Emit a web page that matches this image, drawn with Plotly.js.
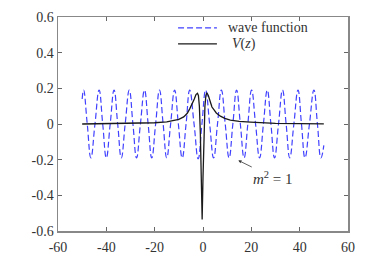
<!DOCTYPE html>
<html>
<head>
<meta charset="utf-8">
<script src="https://cdn.plot.ly/plotly-3.0.1.min.js"></script>
<style>html,body{margin:0;padding:0;background:#fff;}#chart{width:374px;height:262px;}</style>
</head>
<body>
<div id="chart"></div>
<script>
// wave function (extrema and zero crossings)
const waveZ = [-50,-49.4,-47.9,-46.4,-44.7,-43.0,-41.5,-40.0,-38.4,-36.8,-35.3,-33.8,-32.2,-30.5,-29.0,-27.5,-25.9,-24.2,-22.7,-21.2,-19.6,-18.0,-16.5,-15.0,-13.4,-11.75,-10.2,-8.6,-7.0,-5.5,-3.7,-2.0,-0.45,1.1,2.75,4.4,6.0,7.6,9.2,10.8,12.35,13.9,15.45,17.0,18.55,20.1,21.75,23.4,25.0,26.6,28.1,29.6,31.25,32.9,34.4,35.9,37.6,39.3,40.75,42.2,44.05,45.9,47.35,48.8,50];
const wavePsi = [0.14,0.19,0,-0.19,0,0.19,0,-0.19,0,0.19,0,-0.19,0,0.19,0,-0.19,0,0.19,0,-0.19,0,0.19,0,-0.19,0,0.19,0,-0.19,0,0.19,0,-0.195,0,0.19,0,-0.19,0,0.19,0,-0.19,0,0.19,0,-0.19,0,0.19,0,-0.19,0,0.19,0,-0.19,0,0.19,0,-0.19,0,0.19,0,-0.19,0,0.19,0,-0.19,-0.12];
// potential V(z)
const potZ = [-50,-40,-30,-25,-20,-15,-12,-10,-8,-6.5,-5.5,-4.5,-3.6,-2.9,-2.3,-1.9,-1.5,-1.1,-0.7,-0.35,0.0,0.4,0.8,1.2,1.6,2.2,2.9,3.7,4.5,5.5,7.2,9.0,11.3,15,19.6,23.7,30,40,50];
const potV = [0,0.001,0.002,0.004,0.007,0.012,0.018,0.026,0.04,0.06,0.085,0.11,0.14,0.165,0.172,0.16,0.1,-0.05,-0.3,-0.535,-0.3,-0.05,0.1,0.16,0.175,0.16,0.125,0.095,0.08,0.062,0.044,0.032,0.022,0.015,0.011,0.007,0.004,0.002,0.001];
const xTicks = [-60,-40,-20,0,20,40,60];
const xTickText = ['-60','-40','-20','0','20','40','60'];
const yTicks = [-0.6,-0.4,-0.2,0,0.2,0.4,0.6];
const yTickText = ['-0.6','-0.4','-0.2','0','0.2','0.4','0.6'];
const seriesNames = ['wave function', '<i>V</i>(<i>z</i>)'];

const serif = 'Liberation Serif';
const waveLine = {color: '#4040ff', width: 1.2, dash: '6px,3px'};
const potLine = {color: '#1a1a1a', width: 1.3};

const traces = [
  {x: waveZ, y: wavePsi, type: 'scatter', mode: 'lines', name: seriesNames[0],
   line: Object.assign({shape: 'spline', smoothing: 1.3}, waveLine)},
  {x: potZ, y: potV, type: 'scatter', mode: 'lines', name: seriesNames[1], line: potLine}
];

const axisCommon = {
  showgrid: false, zeroline: false, showline: true, linecolor: '#888', linewidth: 1.5,
  mirror: 'ticks', ticks: 'inside', ticklen: 4, tickcolor: '#666', tickwidth: 1,
  tickfont: {family: serif, size: 14, color: '#333'}
};

const legFont = {family: serif, size: 14, color: '#333'};
const layout = {
  width: 374, height: 262,
  margin: {l: 58, r: 26, t: 17, b: 31},
  paper_bgcolor: '#fff', plot_bgcolor: '#fff',
  font: {family: serif},
  showlegend: false,
  xaxis: Object.assign({}, axisCommon, {range: [-60, 60], tickvals: xTicks, ticktext: xTickText, ticklabelstandoff: 3}),
  yaxis: Object.assign({}, axisCommon, {range: [-0.6, 0.6], tickvals: yTicks, ticktext: yTickText}),
  shapes: [
    {type: 'line', xref: 'paper', yref: 'paper', x0: 0.414, x1: 0.548, y0: 0.949, y1: 0.949, line: waveLine},
    {type: 'line', xref: 'paper', yref: 'paper', x0: 0.414, x1: 0.548, y0: 0.874, y1: 0.874, line: potLine}
  ],
  annotations: [
    {x: 0.579, y: 0.949, xref: 'paper', yref: 'paper', xanchor: 'left', yanchor: 'middle',
     text: seriesNames[0], showarrow: false, font: legFont},
    {x: 0.594, y: 0.874, xref: 'paper', yref: 'paper', xanchor: 'left', yanchor: 'middle',
     text: seriesNames[1], showarrow: false, font: legFont},
    {
    x: 14.6, y: -0.204, xref: 'x', yref: 'y',
    ax: 29, ay: -0.3, axref: 'x', ayref: 'y',
    text: '<i>m</i><sup>2</sup> = 1', showarrow: true, arrowhead: 2, arrowsize: 0.8,
    arrowwidth: 0.8, arrowcolor: '#333',
    font: {family: serif, size: 15, color: '#333'}
  }]
};

Plotly.newPlot('chart', traces, layout, {staticPlot: true, displayModeBar: false});
</script>
</body>
</html>
